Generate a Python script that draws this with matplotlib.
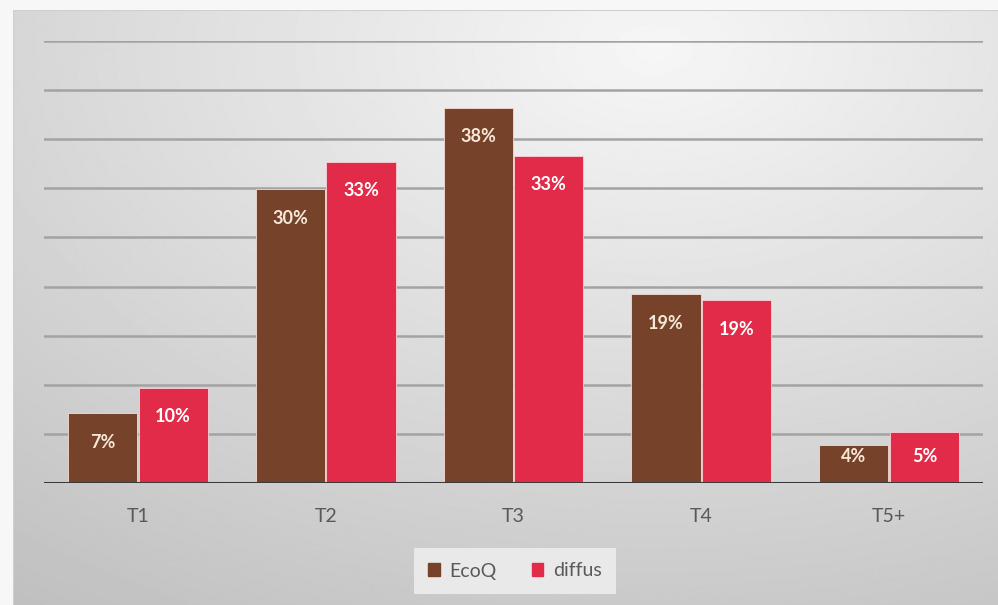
import matplotlib as mpl

mpl.use("Agg")
import matplotlib.pyplot as plt
import numpy as np
from matplotlib.patches import Patch

categories = ["T1", "T2", "T3", "T4", "T5+"]
ecoq = [7.1, 29.9, 38.2, 19.2, 3.9]
diffus = [9.7, 32.7, 33.3, 18.6, 5.2]
series_names = ["EcoQ", "diffus"]

BROWN = "#76432A"
RED = "#E22B49"
TICK = "#595959"
GRID = "#a3a3a3"

W, H = 998, 605
mpl.rcParams["font.family"] = ["Lato", "DejaVu Sans"]


def background(fig):
    # radial grey gradient behind the chart frame
    ax = fig.add_axes([13 / W, 0, 1 - 13 / W, 1 - 10 / H])
    ax.set_axis_off()
    yy, xx = np.mgrid[0:595, 0:985]
    d = np.hypot(xx - 640, (yy - 40) * 1.6)
    v = np.clip(246 - 0.05 * d, 150, 248) / 255.0
    ax.imshow(v, cmap="gray", vmin=0, vmax=1, aspect="auto", interpolation="bilinear")
    ax.plot([0, 984], [0, 0], color="#cfcfcf", lw=1.5)
    ax.plot([0, 0], [0, 594], color="#cfcfcf", lw=1.5)
    ax.set_xlim(0, 984)
    ax.set_ylim(594, 0)


def main():
    fig = plt.figure(figsize=(W / 100, H / 100), dpi=100)
    fig.patch.set_facecolor("#f7f7f7")
    background(fig)

    ax = fig.add_axes([44 / W, (H - 483) / H, 939 / W, (483 - 41) / H])
    ax.patch.set_alpha(0)
    x = np.arange(len(categories))
    bw = 0.368
    b1 = ax.bar(x - bw / 2 - 0.004, ecoq, bw, color=BROWN, edgecolor="#f3dcd2", linewidth=0.6, zorder=3)
    b2 = ax.bar(x + bw / 2 + 0.004, diffus, bw, color=RED, edgecolor="#f7d3d9", linewidth=0.6, zorder=3)

    # labels sit ~3 units under the bar top, but never lower than 2.65
    for bars, vals, col in [(b1, ecoq, "#f6e8d8"), (b2, diffus, "white")]:
        for rect, v in zip(bars, vals):
            ax.text(
                rect.get_x() + rect.get_width() / 2,
                max(v - 2.95, 2.65),
                f"{v:.0f}%",
                ha="center",
                va="center",
                color=col,
                fontsize=13,
                fontweight="bold",
                zorder=4,
            )

    ax.set_xlim(-0.5, len(categories) - 0.5)
    ax.set_ylim(0, 45)
    ax.set_yticks(np.arange(5, 46, 5))
    ax.yaxis.grid(True, color=GRID, linewidth=1.8, zorder=1)
    ax.axhline(0, color="#3a3a3a", linewidth=2.2, zorder=5)
    ax.tick_params(axis="y", left=False, labelleft=False)
    ax.set_xticks(x)
    ax.set_xticklabels(categories, color=TICK, fontsize=14)
    ax.tick_params(axis="x", length=0, pad=18)
    for s in ax.spines.values():
        s.set_visible(False)

    handles = [Patch(color=BROWN), Patch(color=RED)]
    fig.legend(
        handles,
        series_names,
        loc="center",
        bbox_to_anchor=(515 / W, 1 - 571 / H),
        ncol=2,
        frameon=True,
        fancybox=False,
        facecolor="#e9e9e9",
        edgecolor="none",
        framealpha=1,
        fontsize=14,
        handlelength=0.6,
        handleheight=0.6,
        handletextpad=0.5,
        columnspacing=1.8,
        borderpad=0.75,
        borderaxespad=0,
        labelcolor=TICK,
    )

    fig.savefig("out.png", dpi=100)


if __name__ == "__main__":
    main()
